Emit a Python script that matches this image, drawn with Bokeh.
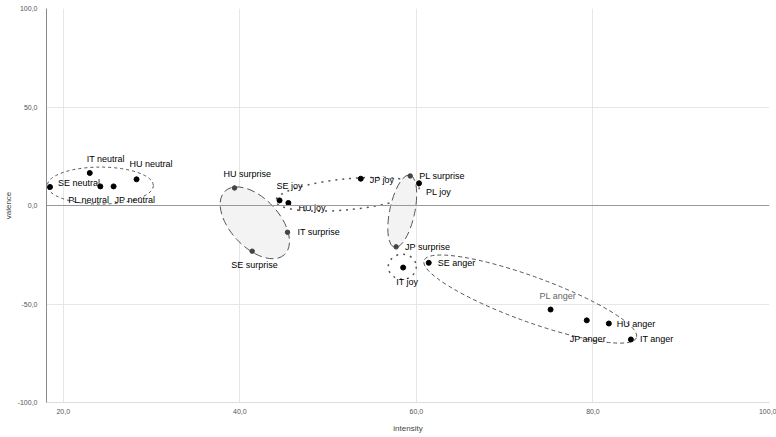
from bokeh.plotting import figure
from bokeh.models import ColumnDataSource, FixedTicker, Span
from bokeh.core.properties import value
from bokeh.embed import file_html
from bokeh.resources import INLINE

# ---- data ----
labels = ["SE neutral", "IT neutral", "PL neutral", "JP neutral", "HU neutral",
          "HU surprise", "SE surprise", "IT surprise", "PL surprise", "JP surprise",
          "SE joy", "HU joy", "JP joy", "PL joy", "IT joy",
          "SE anger", "PL anger", "JP anger", "HU anger", "IT anger"]
intensity = [18.5, 23.0, 24.2, 25.7, 28.3,
             39.4, 41.4, 45.4, 59.3, 57.7,
             44.5, 45.5, 53.7, 60.3, 58.5,
             61.4, 75.2, 79.3, 81.8, 84.3]
valence = [9.4, 16.5, 9.7, 9.7, 13.3,
           8.9, -23.2, -13.6, 15.0, -21.0,
           2.6, 1.3, 13.6, 11.3, -31.5,
           -29.1, -52.8, -58.3, -59.9, -68.0]
emotion = ["neutral"] * 5 + ["surprise"] * 5 + ["joy"] * 5 + ["anger"] * 5

x_ticks = [20, 40, 60, 80, 100]
x_tick_labels = ["20,0", "40,0", "60,0", "80,0", "100,0"]
y_ticks = [-100, -50, 0, 50, 100]
y_tick_labels = ["-100,0", "-50,0", "0,0", "50,0", "100,0"]

# group outlines (centre in data units)
group_x = [24.2, 41.7, 52.2, 58.4, 58.4, 72.9]
group_y = [10.1, -8.8, 5.7, -2.9, -31.1, -47.5]

# ---- layout / style (not data) ----
label_dx = [8, -3, -32, 1, -7,
            -11, -21, 10, 9, 9,
            -3, 10, 9, 7, -7,
            9, -11, -17, 8, 9]
label_dy = [-4, -14, 14, 14, -15,
            -14, 14, 0, 0, 0,
            -14, 5, 1, 9, 14,
            0, -14, 19, 0, 0]
label_color = ["#000000"] * 20
label_color[labels.index("PL anger")] = "#666666"
pt_color = ["#444444" if e == "surprise" else "#000000" for e in emotion]
pt_size = [4.5 if e == "surprise" else 5 for e in emotion]

ell_w = [106, 87, 144, 74, 28, 226]
ell_h = [37, 49, 31, 25, 25, 45]
ell_angle = [0, -47, 5.5, 78, 0, -20]
ell_fill = [None, "#f3f3f3", None, "#f3f3f3", None, None]
ell_dash = ["3 3", "8 4", "2 5", "8 4", "2 5", "4 3"]
ell_lw = [1, 1, 1.5, 1, 1.5, 1]

p = figure(width=776, height=437, output_backend="svg", toolbar_location=None,
           x_range=(18.1, 100), y_range=(-100, 100),
           min_border_left=46, min_border_right=7, min_border_top=8, min_border_bottom=35)
p.outline_line_color = None
p.background_fill_color = "white"

font = "Liberation Sans"
for ax, ticks, tl in ((p.xaxis[0], x_ticks, x_tick_labels), (p.yaxis[0], y_ticks, y_tick_labels)):
    ax.ticker = FixedTicker(ticks=ticks)
    ax.major_label_overrides = {t: s for t, s in zip(ticks, tl)}
    ax.major_tick_line_color = None
    ax.minor_tick_line_color = None
    ax.major_label_text_font = font
    ax.major_label_text_font_size = "7px"
    ax.major_label_text_color = "#555555"
    ax.axis_label_text_font = font
    ax.axis_label_text_font_size = "8px"
    ax.axis_label_text_font_style = "normal"
    ax.axis_label_text_color = "#444444"

p.xaxis.axis_label = "intensity"
p.yaxis.axis_label = "valence"
p.xaxis.axis_line_color = "#dddddd"
p.yaxis.axis_line_color = "#8a8a8a"
p.xaxis.major_label_standoff = 0
p.xaxis.axis_label_standoff = 7
p.yaxis.major_label_standoff = 3
p.yaxis.axis_label_standoff = 2

p.xgrid.ticker = FixedTicker(ticks=x_ticks)
p.ygrid.ticker = FixedTicker(ticks=[-100, -50, 50, 100])
p.xgrid.grid_line_color = "#e6e6e6"
p.ygrid.grid_line_color = "#e6e6e6"

p.add_layout(Span(location=0, dimension="width", line_color="#999999", line_width=1))

for i in range(len(group_x)):
    p.ellipse(x=group_x[i], y=group_y[i], width=ell_w[i], height=ell_h[i],
              width_units="screen", height_units="screen",
              angle=ell_angle[i], angle_units="deg",
              fill_color=ell_fill[i], line_color="#555555",
              line_dash=ell_dash[i], line_width=ell_lw[i])

src = ColumnDataSource(dict(x=intensity, y=valence, label=labels, dx=label_dx, dy=label_dy,
                            tc=label_color, pc=pt_color, ps=pt_size))
p.scatter("x", "y", source=src, size="ps", fill_color="pc", line_color="pc")
p.text("x", "y", text="label", source=src, x_offset="dx", y_offset="dy",
       text_font=value(font), text_font_size="9px", text_color="tc",
       text_align="left", text_baseline="middle")

open("out.html", "w").write(file_html(p, INLINE))
